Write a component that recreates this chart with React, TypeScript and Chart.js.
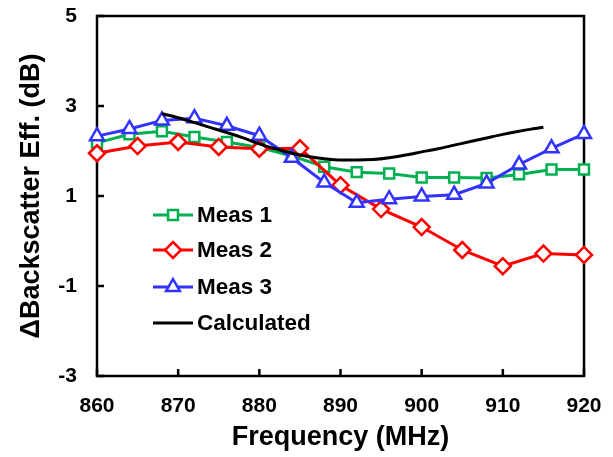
import React, { useEffect, useRef } from 'react';
import { Chart, registerables } from 'chart.js';
Chart.register(...registerables);

const freqMeas1 = [860, 864, 868, 872, 876, 880, 884, 888, 892, 896, 900, 904, 908, 912, 916, 920];
const meas1 = [2.18, 2.37, 2.44, 2.31, 2.2, 2.08, 1.89, 1.65, 1.53, 1.5, 1.41, 1.41, 1.4, 1.48, 1.59, 1.59];

const freqMeas2 = [860, 865, 870, 875, 880, 885, 890, 895, 900, 905, 910, 915, 920];
const meas2 = [1.95, 2.11, 2.2, 2.09, 2.05, 2.06, 1.24, 0.71, 0.31, -0.2, -0.56, -0.28, -0.31];

const freqMeas3 = [860, 864, 868, 872, 876, 880, 884, 888, 892, 896, 900, 904, 908, 912, 916, 920];
const meas3 = [2.33, 2.49, 2.68, 2.73, 2.56, 2.34, 1.85, 1.3, 0.85, 0.93, 0.99, 1.03, 1.28, 1.7, 2.06, 2.38];

const freqCalc = [868, 870, 872, 874, 876, 878, 880, 882, 884, 886, 888, 890, 892, 894, 896, 898, 900, 902, 904, 906, 908, 910, 912, 914, 915];
const calc = [2.83, 2.74, 2.63, 2.52, 2.41, 2.29, 2.16, 2.05, 1.95, 1.88, 1.83, 1.8, 1.8, 1.81, 1.85, 1.91, 1.98, 2.05, 2.13, 2.21, 2.29, 2.37, 2.44, 2.5, 2.53];

const xTicks = [860, 870, 880, 890, 900, 910, 920];
const yTicks = [-3, -1, 1, 3, 5];

const seriesNames = ['Meas 1', 'Meas 2', 'Meas 3', 'Calculated'];
const FONT = "'Liberation Sans', Arial, sans-serif";

const toPts = (xs: number[], ys: number[]) => xs.map((x, i) => ({ x, y: ys[i] }));

export default function App() {
  const ref = useRef<HTMLCanvasElement>(null);
  useEffect(() => {
    document.body.style.margin = '0';
    const canvas = ref.current!;

    const framePlugin = {
      id: 'frame',
      beforeDatasetsDraw(chart: any) {
        const { ctx, chartArea: a, scales } = chart;
        ctx.save();
        ctx.strokeStyle = '#000';
        ctx.lineWidth = 2.5;
        ctx.strokeRect(a.left, a.top, a.right - a.left, a.bottom - a.top);
        ctx.beginPath();
        const tl = 7;
        xTicks.forEach((v) => {
          const x = scales.x.getPixelForValue(v);
          ctx.moveTo(x, a.bottom);
          ctx.lineTo(x, a.bottom - tl);
        });
        yTicks.forEach((v) => {
          const y = scales.y.getPixelForValue(v);
          ctx.moveTo(a.left, y);
          ctx.lineTo(a.left + tl, y);
        });
        ctx.stroke();
        ctx.restore();
      },
    };

    const drawMarker = (ctx: CanvasRenderingContext2D, style: string, x: number, y: number, r: number) => {
      ctx.beginPath();
      if (style === 'rect') {
        const s = r / Math.SQRT2;
        ctx.rect(x - s, y - s, 2 * s, 2 * s);
      } else if (style === 'rectRot') {
        ctx.moveTo(x, y - r);
        ctx.lineTo(x + r, y);
        ctx.lineTo(x, y + r);
        ctx.lineTo(x - r, y);
        ctx.closePath();
      } else if (style === 'triangle') {
        const h = r * 1.5;
        const w = r * Math.sqrt(3);
        ctx.moveTo(x, y - r);
        ctx.lineTo(x + w / 2, y - r + h);
        ctx.lineTo(x - w / 2, y - r + h);
        ctx.closePath();
      }
      ctx.fill();
      ctx.stroke();
    };

    const legendPlugin = {
      id: 'customLegend',
      afterDraw(chart: any) {
        const { ctx, chartArea: a } = chart;
        ctx.save();
        const rows = [199, 234, 271, 307];
        chart.data.datasets.forEach((ds: any, i: number) => {
          const y = a.top + rows[i];
          const x0 = a.left + 56;
          const x1 = a.left + 96;
          ctx.strokeStyle = ds.borderColor;
          ctx.lineWidth = ds.borderWidth;
          ctx.beginPath();
          ctx.moveTo(x0, y);
          ctx.lineTo(x1, y);
          ctx.stroke();
          if (ds.pointStyle && ds.pointRadius > 0) {
            ctx.fillStyle = '#fff';
            ctx.lineWidth = ds.pointBorderWidth;
            ctx.strokeStyle = ds.borderColor;
            drawMarker(ctx, ds.pointStyle, (x0 + x1) / 2, y, ds.pointRadius);
          }
          ctx.fillStyle = '#000';
          ctx.font = `bold 22.5px ${FONT}`;
          ctx.textBaseline = 'middle';
          ctx.textAlign = 'left';
          ctx.fillText(ds.label, x1 + 4, y + 1);
        });
        ctx.restore();
      },
    };

    const chart = new Chart(canvas, {
      type: 'scatter',
      data: {
        datasets: [
          {
            label: seriesNames[0],
            data: toPts(freqMeas1, meas1),
            showLine: true,
            borderColor: '#00B050',
            backgroundColor: '#fff',
            borderWidth: 3,
            pointStyle: 'rect',
            pointRadius: 7,
            pointBorderWidth: 2.5,
            pointBackgroundColor: '#fff',
            pointBorderColor: '#00B050',
            clip: false,
            order: 4,
          },
          {
            label: seriesNames[1],
            data: toPts(freqMeas2, meas2),
            showLine: true,
            borderColor: '#FF0000',
            backgroundColor: '#fff',
            borderWidth: 3,
            pointStyle: 'rectRot',
            pointRadius: 8,
            pointBorderWidth: 2.5,
            pointBackgroundColor: '#fff',
            pointBorderColor: '#FF0000',
            clip: false,
            order: 3,
          },
          {
            label: seriesNames[2],
            data: toPts(freqMeas3, meas3),
            showLine: true,
            borderColor: '#3333FF',
            backgroundColor: '#fff',
            borderWidth: 3,
            pointStyle: 'triangle',
            pointRadius: 8,
            pointBorderWidth: 2.5,
            pointBackgroundColor: '#fff',
            pointBorderColor: '#3333FF',
            clip: false,
            order: 2,
          },
          {
            label: seriesNames[3],
            data: toPts(freqCalc, calc),
            showLine: true,
            borderColor: '#000000',
            backgroundColor: '#000',
            borderWidth: 3,
            pointRadius: 0,
            cubicInterpolationMode: 'monotone',
            clip: false,
            order: 1,
          } as any,
        ],
      },
      options: {
        responsive: false,
        animation: false,
        events: [],
        layout: { padding: { top: 16, right: 29, left: 0, bottom: 0 } },
        plugins: { legend: { display: false }, tooltip: { enabled: false } },
        scales: {
          x: {
            type: 'linear',
            min: 860,
            max: 920,
            afterFit: (s: any) => {
              s.height = 81;
              s.paddingLeft = 0;
              s.paddingRight = 0;
            },
            afterBuildTicks: (s: any) => { s.ticks = xTicks.map((v) => ({ value: v })); },
            grid: { display: false, drawTicks: false },
            border: { display: false },
            ticks: { color: '#000', padding: 18, maxRotation: 0, font: { family: FONT, size: 21, weight: 'bold' } },
            title: {
              display: true,
              text: 'Frequency (MHz)',
              color: '#000',
              padding: { top: 0, bottom: 3 },
              font: { family: FONT, size: 27, weight: 'bold' },
            },
          },
          y: {
            type: 'linear',
            min: -3,
            max: 5,
            afterFit: (s: any) => {
              s.width = 97;
              s.paddingTop = 0;
              s.paddingBottom = 0;
            },
            afterBuildTicks: (s: any) => { s.ticks = yTicks.map((v) => ({ value: v })); },
            grid: { display: false, drawTicks: false },
            border: { display: false },
            ticks: { color: '#000', padding: 20, font: { family: FONT, size: 21, weight: 'bold' } },
            title: {
              display: true,
              text: '\u0394Backscatter Eff. (dB)',
              color: '#000',
              padding: { top: 15, bottom: 0 },
              font: { family: FONT, size: 27, weight: 'bold' },
            },
          },
        },
      },
      plugins: [framePlugin, legendPlugin],
    });
    return () => chart.destroy();
  }, []);

  return <canvas ref={ref} width={613} height={457} style={{ display: 'block' }} />;
}
